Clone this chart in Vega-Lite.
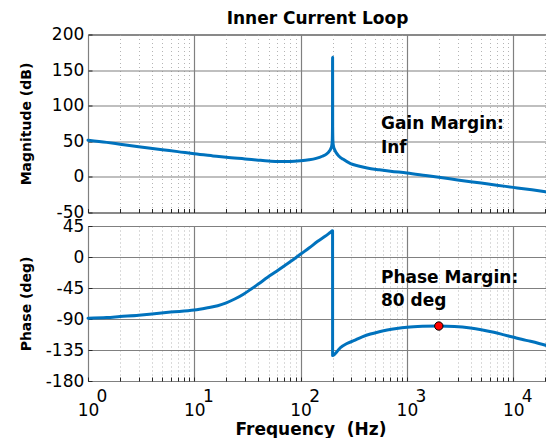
{
  "$schema": "https://vega.github.io/schema/vega-lite/v6.json",
  "padding": {"left": 18, "top": 8.5, "right": 0, "bottom": 0},
  "background": "white",
  "bounds": "flush",
  "spacing": 13.5,
  "config": {
    "font": "DejaVu Sans",
    "view": {"stroke": "#262626", "strokeWidth": 1},
    "axis": {
      "labelFont": "DejaVu Sans",
      "labelFontSize": 17,
      "labelColor": "#000000",
      "titleFont": "DejaVu Sans",
      "titleFontWeight": "bold",
      "titleColor": "#000000",
      "domain": false,
      "tickColor": "#262626",
      "tickSize": -4,
      "labelOverlap": false,
      "labelFlush": false,
      "gridOpacity": 1,
      "gridWidth": 1.2
    }
  },
  "datasets": {
    "mag": [
      {"f": 1, "v": 51.5}, {"f": 1.5, "v": 48.5}, {"f": 2, "v": 46}, {"f": 3, "v": 42.5},
      {"f": 5, "v": 38.2}, {"f": 7, "v": 35.5}, {"f": 10, "v": 32.4}, {"f": 15, "v": 29.5},
      {"f": 20, "v": 27.5}, {"f": 30, "v": 25.2}, {"f": 40, "v": 23.5}, {"f": 50, "v": 22.3},
      {"f": 62, "v": 21.5}, {"f": 80, "v": 21.6}, {"f": 100, "v": 22.6}, {"f": 120, "v": 24},
      {"f": 140, "v": 26}, {"f": 160, "v": 29}, {"f": 175, "v": 32}, {"f": 185, "v": 35.5},
      {"f": 192, "v": 39.5}, {"f": 196, "v": 43}, {"f": 198.5, "v": 50}, {"f": 199.6, "v": 70},
      {"f": 200, "v": 168}, {"f": 200.4, "v": 70}, {"f": 201.5, "v": 50}, {"f": 204, "v": 43},
      {"f": 208, "v": 39}, {"f": 215, "v": 34.5}, {"f": 230, "v": 29}, {"f": 250, "v": 25},
      {"f": 295, "v": 18.6}, {"f": 350, "v": 15.3}, {"f": 423, "v": 12.5}, {"f": 550, "v": 10},
      {"f": 700, "v": 8}, {"f": 1000, "v": 5.5}, {"f": 1500, "v": 2}, {"f": 2000, "v": -0.5},
      {"f": 3000, "v": -4.2}, {"f": 5000, "v": -8.7}, {"f": 7000, "v": -11.7}, {"f": 10000, "v": -14.7},
      {"f": 15000, "v": -18.2}, {"f": 20800, "v": -21.3}
    ],
    "phase": [
      {"f": 1, "v": -89}, {"f": 1.5, "v": -88}, {"f": 2, "v": -86.5}, {"f": 3, "v": -84.5},
      {"f": 4, "v": -82.7}, {"f": 6, "v": -80}, {"f": 10, "v": -77}, {"f": 13, "v": -74},
      {"f": 16.6, "v": -70.7}, {"f": 20, "v": -66.5}, {"f": 24, "v": -61}, {"f": 29, "v": -54},
      {"f": 34.3, "v": -46.5}, {"f": 41, "v": -38}, {"f": 49, "v": -29.5}, {"f": 59, "v": -21},
      {"f": 70.6, "v": -12.6}, {"f": 85, "v": -4}, {"f": 101, "v": 4.6}, {"f": 120, "v": 13},
      {"f": 145, "v": 22.8}, {"f": 170, "v": 30}, {"f": 190, "v": 35.5}, {"f": 199.9, "v": 38},
      {"f": 200.1, "v": -143}, {"f": 237, "v": -131.5}, {"f": 270, "v": -126}, {"f": 316, "v": -121.5},
      {"f": 380, "v": -116}, {"f": 454, "v": -111.8}, {"f": 550, "v": -108.5}, {"f": 653, "v": -106},
      {"f": 800, "v": -103.8}, {"f": 1006, "v": -102}, {"f": 1400, "v": -100.7}, {"f": 1996, "v": -100.2},
      {"f": 2800, "v": -100.8}, {"f": 3963, "v": -103}, {"f": 5000, "v": -105.5}, {"f": 6570, "v": -109.3},
      {"f": 8200, "v": -113}, {"f": 10120, "v": -116.6}, {"f": 12000, "v": -119.5}, {"f": 14550, "v": -122.4},
      {"f": 17500, "v": -125.5}, {"f": 20800, "v": -128.7}
    ],
    "pm": [{"f": 1996, "v": -100.2}],
    "gainText": [
      {"f": 570, "v": 66.9, "label": "Gain Margin:"},
      {"f": 570, "v": 33, "label": "Inf"}
    ],
    "phaseText": [
      {"f": 570, "v": -38, "label": "Phase Margin:"},
      {"f": 570, "v": -71, "label": "80 deg"}
    ]
  },
  "vconcat": [
    {
      "width": 459,
      "height": 178,
      "title": {
        "text": "Inner Current Loop",
        "font": "DejaVu Sans",
        "fontSize": 17,
        "fontWeight": "bold",
        "color": "#000000",
        "frame": "group",
        "anchor": "middle",
        "baseline": "alphabetic",
        "offset": -15
      },
      "layer": [
        {
          "data": {"name": "mag"},
          "mark": {"type": "line", "color": "#0072BD", "strokeWidth": 3, "strokeJoin": "round", "strokeCap": "round", "interpolate": "monotone"},
          "encoding": {
            "x": {
              "field": "f", "type": "quantitative",
              "scale": {"type": "log", "domain": [1, 20800], "nice": false},
              "axis": {
                "title": null,
                "labels": false,
                "tickCount": 100,
                "values": [1,2,3,4,5,6,7,8,9,10,20,30,40,50,60,70,80,90,100,200,300,400,500,600,700,800,900,1000,2000,3000,4000,5000,6000,7000,8000,9000,10000,20000],
                "gridColor": {"condition": {"test": "abs(log(datum.value)/LN10 - round(log(datum.value)/LN10)) < 0.001", "value": "#808080"}, "value": "#b4b4b4"},
                "gridDash": {"condition": {"test": "abs(log(datum.value)/LN10 - round(log(datum.value)/LN10)) < 0.001", "value": []}, "value": [1, 3]},
                "gridWidth": {"condition": {"test": "abs(log(datum.value)/LN10 - round(log(datum.value)/LN10)) < 0.001", "value": 1.2}, "value": 1}
              }
            },
            "y": {
              "field": "v", "type": "quantitative",
              "scale": {"domain": [-50, 200], "nice": false, "zero": false},
              "axis": {
                "title": "Magnitude (dB)",
                "titleFontSize": 14,
                "titleX": -61.5,
                "titleAlign": "center",
                "titleBaseline": "middle",
                "tickCount": 100,
                "values": [-50, 0, 50, 100, 150, 200],
                "labelExpr": "datum.value + ''",
                "labelOverlap": false,
                "labelPadding": 8.2,
                "gridColor": "#808080"
              }
            }
          }
        },
        {
          "data": {"name": "gainText"},
          "mark": {"type": "text", "align": "left", "baseline": "alphabetic", "font": "DejaVu Sans", "fontSize": 17, "fontWeight": "bold", "color": "#000000"},
          "encoding": {
            "x": {"field": "f", "type": "quantitative"},
            "y": {"field": "v", "type": "quantitative"},
            "text": {"field": "label"}
          }
        }
      ]
    },
    {
      "width": 459,
      "height": 155,
      "layer": [
        {
          "data": {"name": "phase"},
          "mark": {"type": "line", "color": "#0072BD", "strokeWidth": 3, "strokeJoin": "round", "strokeCap": "round", "interpolate": "monotone"},
          "encoding": {
            "x": {
              "field": "f", "type": "quantitative",
              "scale": {"type": "log", "domain": [1, 20800], "nice": false},
              "axis": {
                "title": "Frequency\u00a0 (Hz)",
                "titleFontSize": 17,
                "titleX": 222.5,
                "titleY": 53,
                "titleAlign": "center",
                "titleBaseline": "alphabetic",
                "tickCount": 100,
                "values": [1,2,3,4,5,6,7,8,9,10,20,30,40,50,60,70,80,90,100,200,300,400,500,600,700,800,900,1000,2000,3000,4000,5000,6000,7000,8000,9000,10000,20000],
                "labelExpr": "abs(log(datum.value)/LN10 - round(log(datum.value)/LN10)) < 0.001 ? ['\u200b\u00a0\u00a0\u00a0\u00a0\u00a0' + round(log(datum.value)/LN10), '10'] : ''",
                "labelAlign": "center",
                "labelBaseline": "top",
                "labelLineHeight": 13.4,
                "labelPadding": 11.9,
                "labelDx": -1.2,
                "labelOverlap": false,
                "gridColor": {"condition": {"test": "abs(log(datum.value)/LN10 - round(log(datum.value)/LN10)) < 0.001", "value": "#808080"}, "value": "#b4b4b4"},
                "gridDash": {"condition": {"test": "abs(log(datum.value)/LN10 - round(log(datum.value)/LN10)) < 0.001", "value": []}, "value": [1, 3]},
                "gridWidth": {"condition": {"test": "abs(log(datum.value)/LN10 - round(log(datum.value)/LN10)) < 0.001", "value": 1.2}, "value": 1}
              }
            },
            "y": {
              "field": "v", "type": "quantitative",
              "scale": {"domain": [-180, 45], "nice": false, "zero": false},
              "axis": {
                "title": "Phase (deg)",
                "titleFontSize": 14,
                "titleX": -61.5,
                "titleAlign": "center",
                "titleBaseline": "middle",
                "tickCount": 100,
                "values": [-180, -135, -90, -45, 0, 45],
                "labelExpr": "datum.value + ''",
                "labelOverlap": false,
                "labelPadding": 8.2,
                "gridColor": "#808080"
              }
            }
          }
        },
        {
          "data": {"name": "phaseText"},
          "mark": {"type": "text", "align": "left", "baseline": "alphabetic", "font": "DejaVu Sans", "fontSize": 17, "fontWeight": "bold", "color": "#000000"},
          "encoding": {
            "x": {"field": "f", "type": "quantitative"},
            "y": {"field": "v", "type": "quantitative"},
            "text": {"field": "label"}
          }
        },
        {
          "data": {"name": "pm"},
          "mark": {"type": "point", "filled": true, "fill": "#ff0000", "stroke": "#000000", "strokeWidth": 1, "size": 70, "opacity": 1},
          "encoding": {
            "x": {"field": "f", "type": "quantitative"},
            "y": {"field": "v", "type": "quantitative"}
          }
        }
      ]
    }
  ]
}
